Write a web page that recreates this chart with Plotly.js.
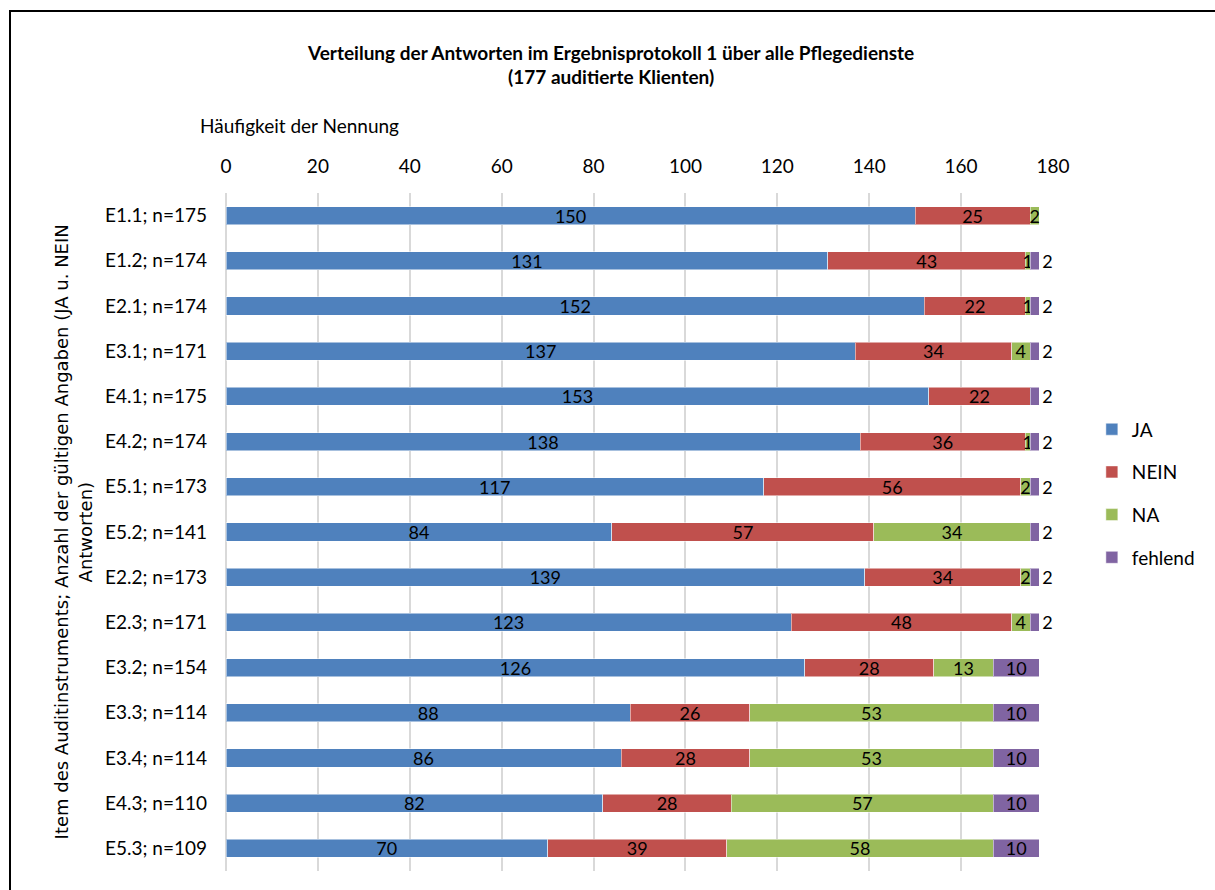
<!DOCTYPE html>
<html>
<head>
<meta charset="utf-8">
<script src="https://cdn.plot.ly/plotly-3.0.1.min.js"></script>
<style>
  body { margin: 0; background: #fff; overflow: hidden; }
  #frame { position: absolute; left: 9px; top: 10px; width: 1240px; height: 920px; border: 2px solid #000; }
  #chart { position: absolute; left: 0; top: 0; width: 1215px; height: 890px; }
</style>
</head>
<body>
<div id="frame"></div>
<div id="chart"></div>
<script>
// Ergebnisprotokoll 1 - gestapelte Balken je Item

const items = ['E1.1; n=175', 'E1.2; n=174', 'E2.1; n=174', 'E3.1; n=171', 'E4.1; n=175',
    'E4.2; n=174', 'E5.1; n=173', 'E5.2; n=141', 'E2.2; n=173', 'E2.3; n=171',
    'E3.2; n=154', 'E3.3; n=114', 'E3.4; n=114', 'E4.3; n=110', 'E5.3; n=109'];

const ja      = [150, 131, 152, 137, 153, 138, 117, 84, 139, 123, 126, 88, 86, 82, 70];
const nein    = [25, 43, 22, 34, 22, 36, 56, 57, 34, 48, 28, 26, 28, 28, 39];
const na      = [2, 1, 1, 4, 0, 1, 2, 34, 2, 4, 13, 53, 53, 57, 58];
const fehlend = [0, 2, 2, 2, 2, 2, 2, 2, 2, 2, 10, 10, 10, 10, 10];

const seriesNames = ['JA', 'NEIN', 'NA', 'fehlend'];
const colors = ['#4F81BD', '#C0504D', '#9BBB59', '#8064A2'];

function makeTrace(values, idx) {
    return {
        type: 'bar',
        orientation: 'h',
        name: seriesNames[idx],
        legendgroup: seriesNames[idx],
        x: values,
        y: items,
        marker: { color: colors[idx], line: { color: 'rgba(255,255,255,0.5)', width: 1 } },
        text: values.map(v => v > 0 ? String(v) : ''),
        // small "fehlend" values sit next to the bar, like in the original
        textposition: values.map(v => (idx === 3 && v < 5) ? 'outside' : 'inside'),
        insidetextanchor: 'middle',
        textangle: 0,
        constraintext: 'none',
        cliponaxis: false,
        textfont: { color: '#000', size: 18 },
        hoverinfo: 'x+name'
    };
}

const data = [makeTrace(ja, 0), makeTrace(nein, 1), makeTrace(na, 2), makeTrace(fehlend, 3)];

const layout = {
    width: 1215,
    height: 890,
    paper_bgcolor: 'rgba(0,0,0,0)',
    plot_bgcolor: 'rgba(0,0,0,0)',
    font: { family: 'Lato, "Open Sans", sans-serif', size: 18, color: '#000' },
    barmode: 'stack',
    bargap: 0.6,
    margin: { l: 226, r: 162, t: 193, b: 19 },
    title: {
        text: '<b>Verteilung der Antworten im Ergebnisprotokoll 1 über alle Pflegedienste<br>(177 auditierte Klienten)</b>',
        font: { size: 19, color: '#000' },
        xref: 'container', x: 0.503,
        yref: 'container', y: 0.933, yanchor: 'top'
    },
    xaxis: {
        side: 'top',
        range: [0, 180],
        dtick: 20,
        showgrid: true,
        gridcolor: '#D9D9D9',
        gridwidth: 2,
        zeroline: true,
        zerolinecolor: '#D9D9D9',
        zerolinewidth: 2,
        showline: false,
        ticks: '',
        ticklabelstandoff: 15,
        tickfont: { size: 19 }
    },
    yaxis: {
        type: 'category',
        autorange: 'reversed',
        showgrid: false,
        zeroline: false,
        showline: false,
        ticks: '',
        ticklabelstandoff: 18,
        tickfont: { size: 19 }
    },
    legend: {
        x: 1.047, xanchor: 'left',
        y: 0.557, yanchor: 'middle',
        traceorder: 'grouped',
        tracegroupgap: 15,
        itemwidth: 30,
        font: { size: 19 },
        bgcolor: 'rgba(0,0,0,0)'
    },
    annotations: [
        {
            text: 'Häufigkeit der Nennung',
            xref: 'paper', yref: 'paper',
            x: -0.034, y: 1.099, xanchor: 'left', yanchor: 'middle',
            showarrow: false, font: { size: 19 }
        },
        {
            text: 'Item des Auditinstruments; Anzahl der gültigen Angaben (JA u. NEIN',
            xref: 'paper', yref: 'paper',
            x: -0.199, y: 0.5, xanchor: 'center', yanchor: 'middle',
            textangle: -90,
            showarrow: false, font: { family: '"DejaVu Sans", sans-serif', size: 18 }
        },
        {
            text: 'Antworten)',
            xref: 'paper', yref: 'paper',
            x: -0.170, y: 0.5, xanchor: 'center', yanchor: 'middle',
            textangle: -90,
            showarrow: false, font: { family: '"DejaVu Sans", sans-serif', size: 18 }
        }
    ]
};

Plotly.newPlot('chart', data, layout, { staticPlot: true });
</script>
</body>
</html>
